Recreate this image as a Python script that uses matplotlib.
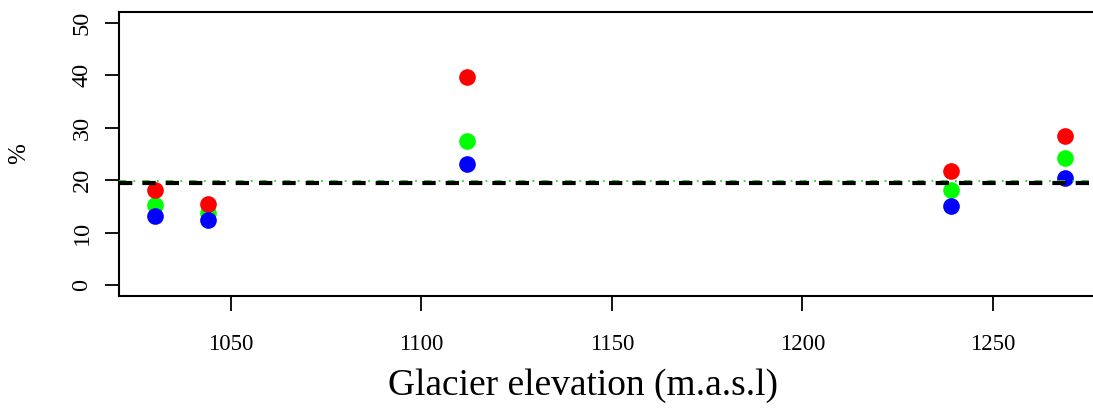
import matplotlib
matplotlib.use("Agg")
import matplotlib.pyplot as plt

# Elevation of each glacier site (m a.s.l.)
elevation = [1030, 1044, 1112, 1239, 1269]

# Percentages for the three series at each site
pct_red = [18.2, 15.5, 39.6, 21.8, 28.4]
pct_green = [15.3, 13.8, 27.5, 18.2, 24.2]
pct_blue = [13.3, 12.5, 23.1, 15.2, 20.5]

# Reference levels
ref_black = 19.5
ref_green = 19.8

x_ticks = [1050, 1100, 1150, 1200, 1250]
y_ticks = [0, 10, 20, 30, 40, 50]

plt.rcParams['font.family'] = ['Liberation Serif', 'DejaVu Serif']

fig = plt.figure(figsize=(10.93, 4.11), dpi=100)
ax = fig.add_axes([119 / 1093, 115 / 411, 981 / 1093, 284 / 411])

ms = 12
ax.plot(elevation, pct_green, 'o', color='#00ff00', ms=ms, mec='none', zorder=3)
ax.plot(elevation, pct_red, 'o', color='#ff0000', ms=ms, mec='none', zorder=3)
ax.plot(elevation, pct_blue, 'o', color='#0000ff', ms=ms, mec='none', zorder=3)

ax.axhline(ref_green, color='#22dd22', lw=1.3, linestyle=(0, (4, 4, 1, 4)), zorder=4)
ax.axhline(ref_black, color='black', lw=3, linestyle=(0, (3.2, 2.4)), zorder=4)

ax.set_xlim(1020.6, 1278.1)
ax.set_ylim(-2, 52)
ax.set_xticks(x_ticks)
ax.set_yticks(y_ticks)
ax.set_xticklabels([str(v) for v in x_ticks], fontsize=16.5)
ax.set_yticklabels([str(v) for v in y_ticks], fontsize=17.5, rotation=90, va='center')

ax.tick_params(axis='x', length=11, width=1.3, pad=16)
ax.tick_params(axis='y', length=10, width=1.3, pad=9)
for s in ax.spines.values():
    s.set_linewidth(1.5)

fig.text(583 / 1093, 1 - 386 / 411, 'Glacier elevation (m.a.s.l)', fontsize=27,
         ha='center', va='center')
fig.text(19 / 1093, 1 - 154 / 411, '%', fontsize=18, rotation=90,
         ha='center', va='center')

fig.savefig('out.png', dpi=100)
